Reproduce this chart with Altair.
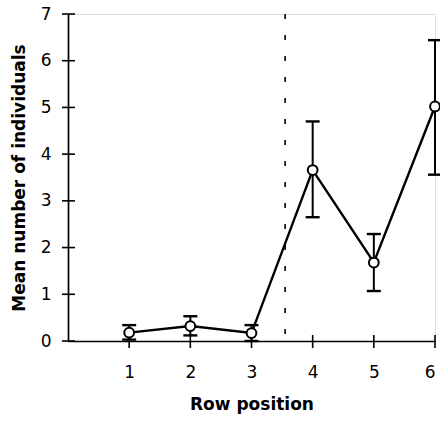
import altair as alt
import pandas as pd

# Mean count per row position with the limits of its error bar
positions = [1, 2, 3, 4, 5, 6]
means = [0.18, 0.32, 0.17, 3.66, 1.68, 5.02]
upper = [0.34, 0.53, 0.34, 4.70, 2.29, 6.44]
lower = [0.03, 0.12, 0.00, 2.65, 1.07, 3.56]

# Axis tick positions (drawn as crossing ticks)
x_ticks = [1, 2, 3, 4, 5, 6]
y_ticks = [0, 1, 2, 3, 4, 5, 6, 7]

# Dashed separator between rows 3 and 4
separator_x = [3.55]
separator_y = [7.0]
separator_y2 = [0.0]

FONT = "DejaVu Sans"

df = pd.DataFrame({"pos": positions, "mean": means, "hi": upper, "lo": lower})
xt = pd.DataFrame({"xtick": [float(v) for v in x_ticks], "xbase": [0.0] * len(x_ticks)})
yt = pd.DataFrame({"ybase": [0.0] * len(y_ticks), "ytick": [float(v) for v in y_ticks]})
sep = pd.DataFrame({"sx": separator_x, "sy": separator_y, "sy2": separator_y2})

xscale = alt.Scale(domain=[0, 6], nice=False, zero=False)
yscale = alt.Scale(domain=[0, 7], nice=False)

x_axis = alt.Axis(
    title="Row position", values=x_ticks, format="d", ticks=False, grid=False,
    domainColor="black", domainWidth=1.7, labelFont=FONT, labelFontSize=17,
    labelColor="black", labelPadding=23, titleFont=FONT, titleFontSize=17,
    titleFontWeight="bold", titleColor="black", titlePadding=16,
)
y_axis = alt.Axis(
    title="Mean number of individuals", values=y_ticks, format="d", ticks=False,
    grid=False, domainColor="black", domainWidth=1.7, labelFont=FONT,
    labelFontSize=17, labelColor="black", labelPadding=17, titleFont=FONT,
    titleFontSize=17, titleFontWeight="bold", titleColor="black", titlePadding=12,
)

base = alt.Chart(df)

bars = base.mark_rule(color="black", strokeWidth=2).encode(
    x=alt.X("pos:Q", scale=xscale, axis=x_axis),
    y=alt.Y("lo:Q", scale=yscale, axis=y_axis),
    y2="hi:Q",
)
# Error bar caps: short horizontal rules centred on each position
caps_hi = base.mark_rule(color="black", strokeWidth=2.4, xOffset=-7, x2Offset=7).encode(
    x=alt.X("pos:Q", scale=xscale), x2="pos:Q", y=alt.Y("hi:Q", scale=yscale)
)
caps_lo = base.mark_rule(color="black", strokeWidth=2.4, xOffset=-7, x2Offset=7).encode(
    x=alt.X("pos:Q", scale=xscale), x2="pos:Q", y=alt.Y("lo:Q", scale=yscale)
)
line = base.mark_line(color="black", strokeWidth=2.4).encode(
    x=alt.X("pos:Q", scale=xscale), y=alt.Y("mean:Q", scale=yscale)
)
points = base.mark_point(
    shape="circle", filled=False, fill="white", fillOpacity=1,
    stroke="black", strokeWidth=2, size=95, opacity=1,
).encode(x=alt.X("pos:Q", scale=xscale), y=alt.Y("mean:Q", scale=yscale))

separator = alt.Chart(sep).mark_rule(
    color="black", strokeWidth=1.6, strokeDash=[5, 16]
).encode(x=alt.X("sx:Q", scale=xscale), y=alt.Y("sy:Q", scale=yscale), y2="sy2:Q")

# Ticks that cross the axis lines
xtick_marks = alt.Chart(xt).mark_rule(
    color="black", strokeWidth=1.6, yOffset=-6, y2Offset=7
).encode(x=alt.X("xtick:Q", scale=xscale), y=alt.Y("xbase:Q", scale=yscale), y2="xbase:Q")
ytick_marks = alt.Chart(yt).mark_rule(
    color="black", strokeWidth=1.6, xOffset=-6, x2Offset=7
).encode(x=alt.X("ybase:Q", scale=xscale), x2="ybase:Q", y=alt.Y("ytick:Q", scale=yscale))

chart = alt.layer(
    bars, caps_hi, caps_lo, separator, xtick_marks, ytick_marks, line, points
).properties(
    width=367, height=327,
    autosize=alt.AutoSizeParams(type="none"),
    padding={"left": 68, "top": 14, "right": 5, "bottom": 84},
).configure_view(stroke=None).configure(background="white")

chart.save("out.html", embed_options={"renderer": "svg", "actions": False})
